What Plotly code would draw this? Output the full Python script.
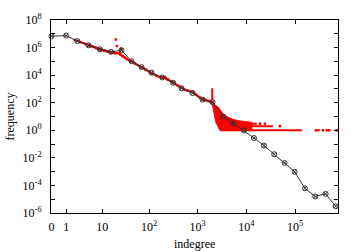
import numpy as np
import plotly.graph_objects as go

# ---- black: log-binned frequency ----
bin_indegree = [0, 1, 2.4, 4.8, 8.8, 15.7, 26.4, 43, 69.5, 112, 186, 313, 466, 785, 1260,
                2020, 3340, 5360, 8890, 14260, 22860, 37230, 60840, 97700, 158900, 258600,
                422300, 678700]
bin_freq = [6.61e6, 7.41e6, 2.92e6, 1.45e6, 7.59e5, 4.90e5, 6.46e5, 1.02e5, 3.84e4, 1.51e4,
            6.76e3, 2.82e3, 1.12e3, 501, 166, 110, 10, 3.16, 0.97, 0.275, 0.079, 0.0182,
            0.00427, 9.77e-4, 6.17e-5, 1.58e-5, 2.45e-5, 3.09e-6]

# ---- red: raw counts per indegree ----
red_k = [2, 3, 4, 5, 6, 7, 8, 9, 10, 11, 12, 13, 14, 15, 16, 17, 18, 19, 23, 25, 28, 31, 34,
         40, 50, 70, 85, 112, 144, 183, 211, 243, 313, 391, 466, 545, 628, 795, 917, 1108,
         1278, 1471, 1697, 1928, 1985]
red_f = [3.55e6, 2.44e6, 1.76e6, 1.38e6, 1.12e6, 9.33e5, 8.07e5, 7.19e5, 6.53e5, 6.01e5,
         5.64e5, 5.28e5, 4.94e5, 4.71e5, 4.42e5, 4.28e5, 4.14e5, 3.94e5, 3.9e5, 3.08e5,
         2.42e5, 1.89e5, 1.48e5, 1.12e5, 7.13e4, 3.72e4, 2.47e4, 1.33e4, 8.57e3, 6.5e3,
         7.3e3, 4.85e3, 2.74e3, 1.68e3, 1.22e3, 877, 746, 585, 389, 239, 172, 154, 135,
         119, 106]
outlier_k = [20, 21, 26]
outlier_f = [3.85e6, 1.29e6, 8.2e5]
spike_k = [1990, 1992, 1994, 1996, 1998]
spike_f = [1122, 687, 422, 259, 159]
band_k = [2004, 2151, 2600, 3340, 4170, 5356, 7356, 10090, 12970, 12970, 2857, 2364, 2151, 2004]
band_f = [97.5, 76.4, 50.8, 15.0, 9.2, 6.1, 4.8, 4.4, 3.75, 1.0, 1.0, 3.75, 19, 71]
row_counts = [1, 2, 3]
row_start = [2857, 2857, 3622]
row_end = [138000, 35000, 16440]
dot_k = [267300, 300900, 372200, 449800, 501200, 711500, 48750, 18930, 23980]
dot_f = [1, 1, 1, 1, 1, 1, 2, 3, 3]

x_tick_vals = [0, 1, 10, 100, 1000, 10000, 100000]
x_tick_text = ["0", "1", "10", "10<sup>2</sup>", "10<sup>3</sup>", "10<sup>4</sup>", "10<sup>5</sup>"]
y_exps = list(range(-6, 9))


def tx(k):
    return np.log10(np.asarray(k, dtype=float) + 1)


RED = "#ff0000"
FONT = "Liberation Serif"

fig = go.Figure()
fig.add_trace(go.Scatter(x=tx(band_k), y=band_f, mode="lines", fill="toself",
                         fillcolor=RED, line=dict(color=RED, width=1), hoverinfo="skip"))
for c, a, b in zip(row_counts, row_start, row_end):
    fig.add_trace(go.Scatter(x=tx([a, b]), y=[c, c], mode="lines",
                             line=dict(color=RED, width=2)))
fig.add_trace(go.Scatter(x=tx(dot_k), y=dot_f, mode="markers",
                         marker=dict(color=RED, size=2.5, symbol="square")))
fig.add_trace(go.Scatter(x=tx(red_k), y=red_f, mode="lines+markers",
                         line=dict(color=RED, width=2.2),
                         marker=dict(color=RED, size=2.5, symbol="square")))
fig.add_trace(go.Scatter(x=tx(outlier_k), y=outlier_f, mode="markers",
                         marker=dict(color=RED, size=2.5, symbol="square")))
fig.add_trace(go.Scatter(x=tx(spike_k), y=spike_f, mode="lines",
                         line=dict(color=RED, width=2)))
fig.add_trace(go.Scatter(x=tx(bin_indegree), y=bin_freq, mode="lines+markers",
                         cliponaxis=False,
                         line=dict(color="#333333", width=1),
                         marker=dict(symbol="circle-x-open", size=5,
                                     color="#333333", line=dict(width=1))))

fig.update_layout(
    width=360, height=252, showlegend=False,
    margin=dict(l=51, r=22, t=15, b=39),
    paper_bgcolor="white", plot_bgcolor="white",
    font=dict(family=FONT, size=12, color="black"),
)
fig.update_xaxes(range=[-0.01, 5.88], tickvals=tx(x_tick_vals), ticktext=x_tick_text,
                 ticks="inside", ticklen=4, tickcolor="black", showgrid=False,
                 zeroline=False, showline=True, linecolor="black", linewidth=1,
                 mirror="allticks", ticklabelstandoff=3, tickfont=dict(size=12))
fig.update_yaxes(type="log", range=[-6, 8],
                 tickvals=[10.0 ** e for e in y_exps],
                 ticktext=[("10<sup>%d</sup>" % e) if e % 2 == 0 else "" for e in y_exps],
                 ticks="inside", ticklen=4, tickcolor="black", showgrid=False,
                 zeroline=False, showline=True, linecolor="black", linewidth=1,
                 mirror="allticks", ticklabelstandoff=6, tickfont=dict(size=12))
fig.add_annotation(text="indegree", xref="paper", yref="paper", x=0.5, y=0,
                   xanchor="center", yanchor="middle",
                   yshift=-31, showarrow=False, font=dict(size=12))
fig.add_annotation(text="frequency", xref="paper", yref="paper", x=0, y=0.5,
                   xanchor="center", yanchor="middle",
                   xshift=-42, textangle=-90, showarrow=False, font=dict(size=12))
fig.write_html("out.html")
